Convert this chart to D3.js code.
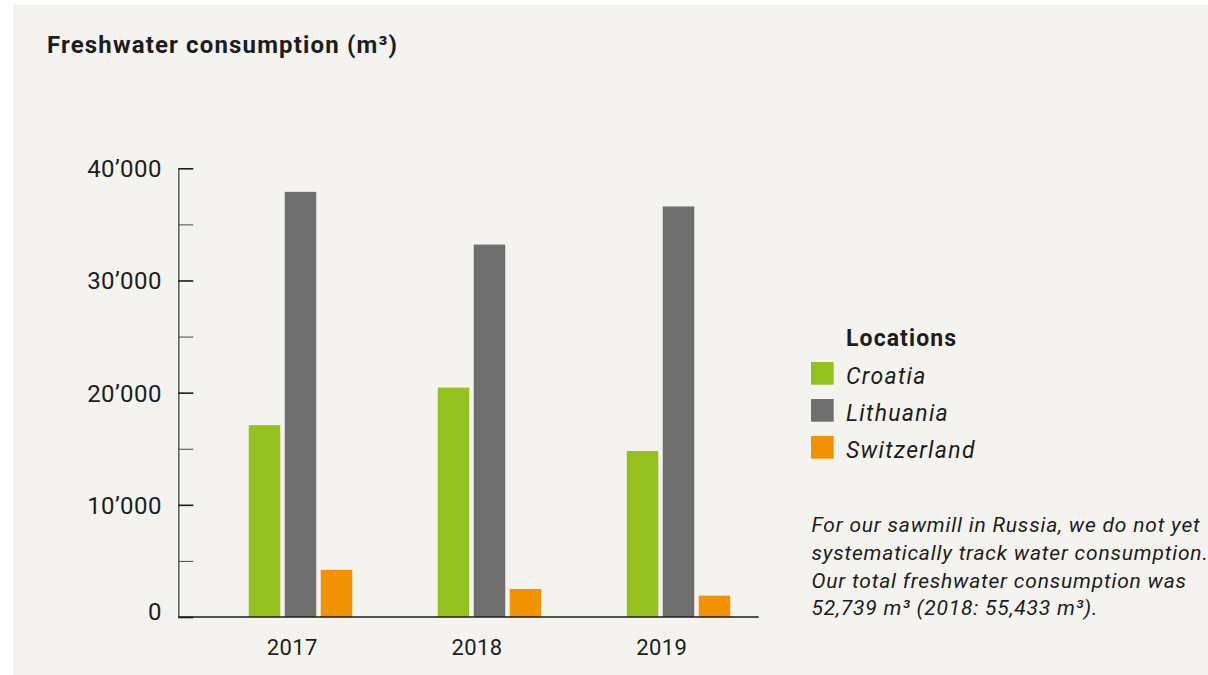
<!DOCTYPE html>
<html>
<head>
<meta charset="utf-8">
<script src="https://cdn.jsdelivr.net/npm/d3@7"></script>
<style>
  body { margin: 0; background: #ffffff; }
  svg { display: block; font-family: Roboto, "Noto Sans", sans-serif; }
  .axis text { fill: #1d1d1b; font-family: Roboto, "Noto Sans", sans-serif; }
</style>
</head>
<body>
<svg id="chart" width="1208" height="675"></svg>
<script>
  const years = ["2017", "2018", "2019"];
  const locations = ["Croatia", "Lithuania", "Switzerland"];
  const croatia = [17100, 20450, 14800];
  const lithuania = [37900, 33200, 36600];
  const switzerland = [4200, 2500, 1900];
  const colours = ["#95c11f", "#6f6f6f", "#f39200"];
  const majorTicks = [0, 10000, 20000, 30000, 40000];
  const minorTicks = [5000, 15000, 25000, 35000];
  const noteLines = [
    "For our sawmill in Russia, we do not yet",
    "systematically track water consumption.",
    "Our total freshwater consumption was",
    "52,739 m³ (2018: 55,433 m³)."
  ];

  const series = [croatia, lithuania, switzerland];

  // one row per year, one column per location
  const rows = years.map((yr, i) => ({
    year: yr,
    values: locations.map((loc, j) => ({ loc, value: series[j][i] }))
  }));

  const svg = d3.select("#chart");

  // panel background
  svg.append("rect")
    .attr("x", 13).attr("y", 4)
    .attr("width", 1195).attr("height", 671)
    .attr("fill", "#f4f3ef");

  const fmt = d3.formatLocale({
    decimal: ".", thousands: "\u2019", grouping: [3], currency: ["", ""]
  }).format(",");

  const y = d3.scaleLinear().domain([0, 40000]).range([617, 168.3]);

  // labels scale and bar-group scale (bars sit a little right of the labels)
  const x = d3.scaleBand().domain(years).range([200, 754]);
  const xg = d3.scaleBand().domain(years).range([206, 773]);
  const inner = d3.scaleBand().domain(locations).range([0, 103.5]).paddingInner(0.125);

  // title
  svg.append("text")
    .attr("x", 47).attr("y", 53)
    .attr("font-size", 24).attr("font-weight", "bold")
    .attr("letter-spacing", 1.15)
    .attr("fill", "#1d1d1b")
    .text("Freshwater consumption (m³)");

  // bars
  const groups = svg.selectAll(".year")
    .data(rows)
    .enter()
    .append("g")
    .attr("class", "year")
    .attr("transform", (d) => `translate(${xg(d.year) + (xg.bandwidth() - 103.5) / 2},0)`);

  groups.selectAll("rect")
    .data((d) => d.values)
    .enter()
    .append("rect")
    .attr("x", (d) => inner(d.loc))
    .attr("width", inner.bandwidth())
    .attr("y", (d) => y(d.value))
    .attr("height", (d) => y(0) - y(d.value))
    .attr("fill", (d, i) => colours[i]);

  // y axis, ticks point into the plot
  const yAxis = svg.append("g")
    .attr("class", "axis")
    .attr("transform", "translate(178.3,0)")
    .call(d3.axisLeft(y).tickValues(majorTicks).tickFormat(fmt)
      .tickSizeInner(-15).tickSizeOuter(0).tickPadding(16.5));
  yAxis.select(".domain").attr("stroke", "#5a5a5a").attr("stroke-width", 1.5);
  yAxis.selectAll(".tick line").attr("stroke", "#1d1d1b").attr("stroke-width", 1.6);
  yAxis.selectAll("text")
    .attr("font-size", 24)
    .attr("letter-spacing", 0.4)
    .attr("dy", (d) => (d === 0 ? "0.12em" : "0.35em"));

  const yMinor = svg.append("g")
    .attr("transform", "translate(178.3,0)")
    .call(d3.axisLeft(y).tickValues(minorTicks).tickFormat("")
      .tickSizeInner(-15).tickSizeOuter(0));
  yMinor.select(".domain").remove();
  yMinor.selectAll(".tick line").attr("stroke", "#4a4a4a").attr("stroke-width", 1);

  // x axis
  const xAxis = svg.append("g")
    .attr("class", "axis")
    .attr("transform", `translate(0,${y(0)})`)
    .call(d3.axisBottom(x).tickSize(0).tickPadding(22));
  xAxis.select(".domain").remove();
  xAxis.selectAll("text").attr("font-size", 22).attr("letter-spacing", 0.4);

  svg.append("line")
    .attr("x1", 178.3).attr("x2", 758.7)
    .attr("y1", y(0)).attr("y2", y(0))
    .attr("stroke", "#1d1d1b").attr("stroke-width", 1.6);

  // legend
  const legend = svg.append("g").attr("transform", "translate(811,0)");
  legend.append("text")
    .attr("x", 35).attr("y", 346)
    .attr("font-size", 23).attr("font-weight", "bold")
    .attr("letter-spacing", 1.1)
    .attr("fill", "#1d1d1b")
    .text("Locations");

  const item = legend.selectAll(".item")
    .data(locations)
    .enter()
    .append("g")
    .attr("class", "item")
    .attr("transform", (d, i) => `translate(0,${362 + i * 37})`);

  item.append("rect")
    .attr("width", 22.7).attr("height", 22.7)
    .attr("fill", (d, i) => colours[i]);

  item.append("text")
    .attr("x", 35).attr("y", 22)
    .attr("font-size", 23).attr("font-style", "italic")
    .attr("letter-spacing", 1.3)
    .attr("fill", "#1d1d1b")
    .text((d) => d);

  // note
  svg.append("g")
    .selectAll("text")
    .data(noteLines)
    .enter()
    .append("text")
    .attr("x", 811.5)
    .attr("y", (d, i) => 532.3 + i * 27.6)
    .attr("font-size", 21).attr("font-style", "italic")
    .attr("letter-spacing", 0.8)
    .attr("fill", "#1d1d1b")
    .text((d) => d);
</script>
</body>
</html>
